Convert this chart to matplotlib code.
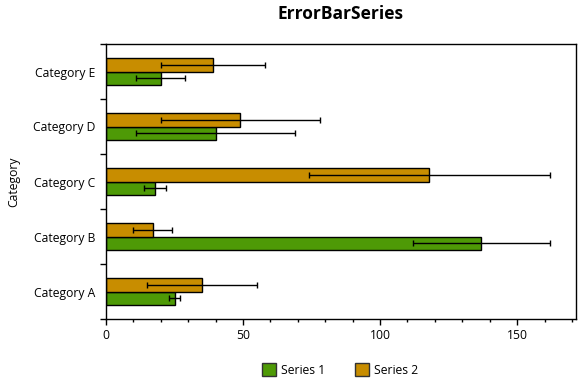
import numpy as np
import matplotlib
matplotlib.use("Agg")
import matplotlib.pyplot as plt
from matplotlib.patches import Patch

categories = ["Category A", "Category B", "Category C", "Category D", "Category E"]
series1 = [25, 137, 18, 40, 20]
series1_err = [2, 25, 4, 29, 9]
series2 = [35, 17, 118, 49, 39]
series2_err = [20, 7, 44, 29, 19]

green = "#4E9A06"
orange = "#C88D00"

plt.rcParams["font.family"] = ["Open Sans", "DejaVu Sans"]

fig = plt.figure(figsize=(5.79, 3.83), dpi=100)
ax = fig.add_axes([106 / 579, 1 - 319 / 383, 469.5 / 579, 275 / 383])

y = np.arange(len(categories))
h = 0.25
ax.barh(y - h / 2, series1, height=h, color=green, edgecolor="black", linewidth=1)
ax.barh(y + h / 2, series2, height=h, color=orange, edgecolor="black", linewidth=1)
ax.errorbar(series1, y - h / 2, xerr=series1_err, fmt="none", ecolor="black",
            elinewidth=1, capsize=2, capthick=1)
ax.errorbar(series2, y + h / 2, xerr=series2_err, fmt="none", ecolor="black",
            elinewidth=1, capsize=2, capthick=1)

ax.set_xlim(0, 171.3)
ax.set_ylim(-0.5, len(categories) - 0.5)

ax.set_xticks([0, 50, 100, 150])
ax.set_xticks(np.arange(0, 171, 10), minor=True)
ax.set_yticks(y)
ax.set_yticklabels(categories)
ax.set_yticks(np.arange(-0.5, len(categories), 1), minor=True)

ax.tick_params(axis="x", which="major", length=4.3, width=1, labelsize=8.75, pad=3)
ax.tick_params(axis="x", which="minor", length=2.4, width=1)
ax.tick_params(axis="y", which="major", length=0, labelsize=8.75, pad=8)
ax.tick_params(axis="y", which="minor", length=4.3, width=1)

for s in ax.spines.values():
    s.set_linewidth(1)

ax.set_ylabel("Category", fontsize=8.75)
ax.yaxis.set_label_coords(-0.183, 0.5)
fig.text(340.5 / 579, 1 - 14 / 383, "ErrorBarSeries", ha="center", va="center",
         fontsize=12.5, fontweight="bold")

handles = [Patch(facecolor=green, edgecolor="#333333", label="Series 1"),
           Patch(facecolor=orange, edgecolor="#333333", label="Series 2")]
fig.legend(handles=handles, loc="center", bbox_to_anchor=(340 / 579, 1 - 370 / 383),
           ncol=2, frameon=False, fontsize=8.75, handlelength=1.2, handleheight=1.2,
           columnspacing=2.4, handletextpad=0.4)

fig.savefig("out.png", dpi=100)
